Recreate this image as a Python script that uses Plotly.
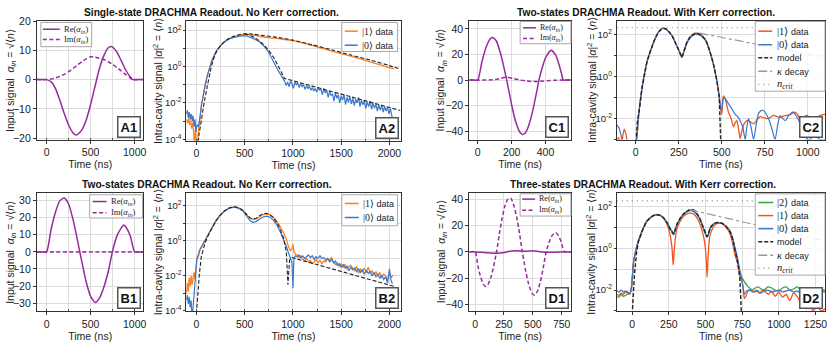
import numpy as np
import plotly.graph_objects as go

W, H = 830, 344

# ---------------- input pulses (linear panels) ----------------
a1_t = [-110, -50, 0, 50, 100, 150, 200, 250, 300, 330, 350, 400, 450, 500, 550, 600, 650, 700, 730, 750, 800, 850, 900, 950, 980, 1000, 1100]
a1_re = [0, 0, 0, -0.7, -3, -7, -11.5, -15.5, -18.2, -18.9, -18.8, -17.2, -13.8, -8.5, -2.3, 3.8, 8.2, 10.9, 11.3, 11.1, 9.3, 6.3, 3.2, 0.9, 0, 0, 0]
a1_im_t = [-110, 0, 50, 100, 150, 200, 250, 300, 350, 400, 450, 500, 550, 600, 650, 700, 750, 800, 850, 900, 950, 980, 1100]
a1_im = [0, 0, 0.2, 0.55, 1.1, 1.8, 2.7, 3.8, 5.0, 6.1, 7.1, 7.8, 7.7, 7.3, 6.9, 6.1, 5.2, 4.1, 2.9, 1.7, 0.6, 0, 0]

b1_t = [-110, -50, 0, 50, 100, 150, 200, 250, 300, 350, 377, 400, 450, 500, 555, 600, 650, 700, 747, 800, 850, 875, 900, 950, 1000, 1050, 1100]
b1_re = [0, 0, 0, 12.8, 23, 29.8, 31.5, 28, 19, 7, 0, -5.7, -17.6, -26, -29.6, -27, -20.6, -11.6, 0, 9.5, 14.2, 15.7, 14.5, 9.4, 0, 0, 0]
b1_im = [0] * len(b1_t)

c1_t = [-50, -20, 0, 25, 50, 75, 89, 110, 135, 150, 171, 200, 225, 250, 265, 280, 300, 325, 350, 361, 380, 400, 433, 460, 480, 500, 503, 520, 550]
c1_re = [0, 0, 0, 14.5, 26, 32.5, 33.3, 30.5, 20.5, 12.5, 0, -19.5, -33, -41, -42.5, -41.3, -35.8, -23.7, -7.7, 0, 9.4, 17.3, 23.3, 19.4, 11.9, 2, 0, 0, 0]
c1_im_t = [-50, 0, 50, 100, 130, 170, 210, 250, 290, 330, 370, 410, 450, 500, 550]
c1_im = [0, 0, 0, 0.3, 1.2, 2.2, 1.2, 0, -0.8, -1.2, -1.0, -0.5, -0.2, 0, 0]

d1_t = [-50, 0, 25, 50, 75, 91, 110, 135, 160, 186, 210, 235, 260, 285, 309, 335, 360, 385, 409, 435, 460, 490, 515, 540, 565, 590, 615, 640, 665, 696, 720, 745, 773, 830]
d1_im = [0, 0, -10.8, -19.7, -25.1, -26.3, -25.2, -19.9, -11.3, 0, 13.5, 26, 35.5, 40.3, 41, 35.5, 26.5, 14, 0, -12.9, -23.2, -31.2, -33, -30, -22.8, -12.3, 0, 7.1, 12.3, 14.7, 12.7, 7.8, 0, 0]
d1_re_t = [-50, 0, 100, 200, 250, 300, 350, 450, 500, 550, 600, 700, 750, 830]
d1_re = [0, 0, -0.7, -1.0, -0.5, 0.5, 0.8, 0.5, 0.8, 0.3, -0.2, -0.2, 0, 0]

# ---------------- intra-cavity photon number, log10 <n> ----------------
a2_one_t = [-105, -90, -80, -70, -60, -50, -40, -30, -20, -10, 0, 10, 20, 34, 52, 70, 86, 110, 138, 170, 207, 250, 293, 340, 397, 450, 500, 550, 600, 650, 724, 800, 897, 1000, 1100, 1200, 1300, 1400, 1500, 1600, 1700, 1800, 1900, 2000, 2050]
a2_one = [-2.9, -3.1, -2.8, -3.2, -3.0, -3.4, -3.1, -3.6, -4.5, -3.3, -4.5, -4.3, -3.6, -3.0, -2.14, -1.6, -1.08, -0.55, -0.03, 0.45, 0.85, 1.15, 1.38, 1.53, 1.65, 1.73, 1.77, 1.76, 1.72, 1.67, 1.6, 1.56, 1.5, 1.42, 1.3, 1.15, 1.0, 0.85, 0.71, 0.57, 0.42, 0.26, 0.1, -0.06, -0.12]
a2_zero_t = [-105, -95, -85, -75, -65, -55, -45, -35, -25, -15, -5, 5, 20, 34, 52, 70, 86, 110, 138, 170, 207, 250, 293, 340, 397, 450, 480, 520, 552, 600, 655, 700, 741, 780, 810, 845, 880, 914,
             930, 945, 960, 975, 990, 1005, 1020, 1035, 1050, 1065, 1080, 1095, 1110, 1125, 1140, 1155, 1170, 1185, 1200, 1215, 1230, 1245, 1260, 1275, 1290, 1305, 1320, 1335, 1350, 1365, 1380, 1395,
             1410, 1425, 1440, 1455, 1470, 1485, 1500, 1515, 1530, 1545, 1560, 1575, 1590, 1605, 1620, 1635, 1650, 1665, 1680, 1695, 1710, 1725, 1740, 1755, 1770, 1785, 1800, 1815, 1830, 1845,
             1860, 1875, 1890, 1905, 1920, 1935, 1950, 1965, 1980, 1995, 2010, 2025, 2035]
a2_zero = [-2.6, -2.4, -2.8, -2.5, -2.9, -2.6, -3.0, -2.7, -3.3, -2.9, -3.6, -3.2, -3.3, -2.9, -2.1, -1.6, -1.08, -0.55, -0.03, 0.45, 0.85, 1.15, 1.37, 1.52, 1.62, 1.68, 1.7, 1.68, 1.63, 1.52, 1.35, 1.12, 0.85, 0.5, 0.15, -0.2, -0.5, -0.8,
           -1.05, -0.85, -1.1, -0.8, -0.95, -1.2, -0.85, -1.0, -0.9, -1.15, -0.95, -1.1, -1.0, -1.25, -1.05, -1.2, -1.1, -1.3, -1.15, -1.35, -1.2, -1.4, -1.15, -1.3, -1.25, -1.55, -1.2, -1.45, -1.3, -1.7, -1.35, -1.6,
           -1.5, -1.9, -1.45, -1.75, -1.55, -2.0, -1.6, -1.85, -1.55, -2.1, -1.7, -1.95, -1.65, -2.05, -1.75, -2.15, -1.8, -2.0, -1.7, -2.2, -1.85, -2.1, -1.9, -2.3, -1.95, -2.2, -1.9, -2.35, -2.0, -2.3,
           -2.05, -2.45, -2.1, -2.4, -2.15, -2.5, -2.2, -2.45, -2.25, -2.6, -2.3, -2.8, -3.0]
a2_model1_t = [10, 25, 50, 70, 90, 110, 140, 170, 207, 250, 293, 340, 397, 450, 500, 550, 600, 700, 800, 900, 1000, 1200, 1400, 1600, 1800, 2000, 2115]
a2_model1 = [-4.5, -3.8, -3.0, -2.3, -1.7, -1.15, -0.35, 0.3, 0.82, 1.15, 1.38, 1.55, 1.68, 1.76, 1.8, 1.8, 1.77, 1.7, 1.63, 1.55, 1.45, 1.2, 0.92, 0.63, 0.36, 0.05, -0.15]
a2_model0_t = [500, 550, 600, 650, 700, 750, 800, 850, 880, 910, 2115]
a2_model0 = [1.78, 1.72, 1.6, 1.42, 1.18, 0.88, 0.5, 0.05, -0.3, -0.65, -2.42]

b2_one_t = [-105, -95, -85, -75, -65, -55, -45, -35, -25, -15, -5, 5, 20, 34, 60, 86, 120, 155, 200, 241, 290, 345, 397, 440, 483, 520, 552, 586, 620, 655, 690, 724, 760, 793, 830, 862, 900, 931, 955, 975, 990, 1000, 1010, 1025,
            1040, 1060, 1080, 1100, 1120, 1140, 1160, 1180, 1200, 1220, 1240, 1260, 1280, 1300, 1320, 1340, 1360, 1380, 1400, 1420, 1440, 1460, 1480, 1500, 1520, 1540, 1560, 1580, 1600, 1620, 1640,
            1660, 1680, 1700, 1720, 1740, 1760, 1780, 1800, 1820, 1840, 1860, 1880, 1900, 1920, 1940, 1960, 1980, 2000, 2020, 2035]
b2_one = [-3.0, -2.4, -2.9, -2.1, -2.6, -2.0, -2.5, -2.1, -1.8, -2.2, -1.3, -0.95, -0.8, -0.5, -0.25, 0.0, 0.38, 0.72, 1.15, 1.45, 1.72, 1.9, 1.95, 1.88, 1.73, 1.5, 1.32, 1.22, 1.27, 1.38, 1.5, 1.55, 1.5, 1.38, 1.15, 0.88, 0.5, 0.1, -0.35, -0.55, -0.45, -0.2, -0.6, -0.75,
          -0.8, -0.95, -0.85, -1.05, -1.15, -1.0, -1.2, -1.1, -1.3, -1.2, -1.05, -1.25, -1.1, -1.3, -1.15, -1.2, -1.0, -1.1, -0.95, -1.2, -1.35, -1.25, -1.45, -1.3, -1.5, -1.35, -1.6, -1.45, -1.4, -1.55, -1.7,
          -1.45, -1.85, -1.6, -1.75, -1.55, -1.8, -1.5, -1.85, -1.7, -1.95, -1.75, -2.0, -1.8, -2.1, -1.9, -2.0, -2.25, -1.85, -2.1, -1.95]
b2_zero_t = [-105, -95, -85, -75, -65, -55, -45, -35, -25, -15, -5, 5, 20, 34, 60, 86, 120, 155, 200, 241, 290, 345, 397, 440, 483, 520, 552, 586, 620, 655, 690, 724, 760, 793, 830, 862, 900, 931, 955, 975, 990, 1000, 1010, 1025,
             1040, 1060, 1080, 1100, 1120, 1140, 1160, 1180, 1200, 1220, 1240, 1260, 1280, 1300, 1320, 1340, 1360, 1380, 1400, 1420, 1440, 1460, 1480, 1500, 1520, 1540, 1560, 1580, 1600, 1620, 1640,
             1660, 1680, 1700, 1720, 1740, 1760, 1780, 1800, 1820, 1840, 1860, 1880, 1900, 1920, 1940, 1960, 1980, 2000, 2015, 2030]
b2_zero = [-3.4, -3.1, -3.6, -3.2, -3.8, -3.4, -4.5, -3.6, -2.8, -2.4, -1.6, -1.05, -0.85, -0.55, -0.28, 0.0, 0.37, 0.7, 1.13, 1.43, 1.7, 1.88, 1.93, 1.86, 1.7, 1.42, 1.18, 1.05, 1.12, 1.25, 1.37, 1.42, 1.37, 1.22, 0.95, 0.6, 0.15, -0.3, -0.7, -1.05, -1.25, -2.7, -1.0, -0.85,
           -0.9, -0.8, -0.95, -0.85, -1.0, -0.9, -0.8, -0.95, -0.85, -1.05, -0.9, -1.0, -0.85, -1.0, -0.95, -1.1, -1.0, -1.2, -1.05, -1.25, -1.15, -1.4, -1.3, -1.5, -1.35, -1.55, -1.45, -1.7, -1.5, -1.65, -1.55,
           -1.75, -1.6, -1.8, -1.65, -1.9, -1.7, -1.85, -1.75, -2.0, -1.8, -2.05, -1.9, -2.15, -1.95, -2.2, -2.05, -2.4, -1.6, -2.2, -2.45]
b2_model_t = [-5, 10, 30, 50, 70, 90, 120, 155, 200, 241, 290, 345, 397, 440, 483, 520, 552, 586, 620, 655, 690, 724, 760, 793, 830, 862, 900, 931, 948, 965, 990, 2050]
b2_model = [-4.5, -3.2, -1.9, -0.9, -0.45, -0.1, 0.3, 0.68, 1.12, 1.44, 1.72, 1.9, 1.95, 1.9, 1.75, 1.52, 1.33, 1.25, 1.3, 1.45, 1.55, 1.58, 1.5, 1.35, 1.08, 0.75, 0.2, -0.6, -2.5, -1.1, -0.95, -2.6]

c2_one_t = [-110, -100, -85, -67, -55, -45, -30, -15, 0, 10, 19, 38, 67, 106, 130, 154, 175, 192, 212, 231, 250, 262, 269, 278, 298, 320, 346, 365, 385, 410, 433, 452, 471, 485, 494, 500, 505, 510, 520, 539, 555, 568, 578, 588, 598, 607, 617, 627, 646, 665, 685, 705, 723, 742, 762, 781, 800, 820, 839, 858, 877, 900, 925, 940, 954, 973, 993, 1015, 1040, 1070, 1100]
c2_one = [-3.2, -2.9, -3.3, -2.5, -2.8, -3.3, -3.5, -3.2, -3.4, -2.6, -1.69, -0.46, 0.77, 1.69, 2.1, 2.31, 2.28, 2.15, 1.95, 1.62, 1.28, 1.02, 0.92, 1.15, 1.65, 1.93, 2.08, 2.06, 1.97, 1.7, 1.16, 0.6, -0.15, -0.9, -1.53, -1.8, -1.3, -0.92, -1.05, -1.69, -2.0, -2.38, -2.2, -2.1, -2.5, -2.95, -2.6, -2.3, -2.1, -2.15, -2.25, -2.05, -1.9, -1.95, -2.0, -1.95, -1.85, -1.9, -1.95, -1.88, -1.85, -1.8, -1.69, -1.8, -2.0, -1.95, -1.85, -1.95, -2.0, -1.85, -1.8]
c2_zero_t = [-110, -98, -85, -75, -60, -45, -30, -15, 0, 10, 19, 38, 67, 106, 130, 154, 175, 192, 212, 231, 250, 262, 269, 278, 298, 320, 346, 365, 385, 410, 433, 452, 471, 485, 494, 500, 505, 510, 525, 540, 560, 578, 593, 607, 622, 636, 646, 656, 670, 685, 700, 714, 728, 742, 760, 781, 795, 810, 825, 839, 855, 870, 885, 900, 916, 935, 954, 975, 993, 1010, 1040, 1070, 1100]
c2_zero = [-2.3, -2.43, -2.8, -3.3, -3.1, -3.6, -3.3, -3.5, -3.2, -2.6, -1.7, -0.47, 0.76, 1.68, 2.09, 2.3, 2.27, 2.14, 1.93, 1.6, 1.26, 1.0, 0.92, 1.12, 1.6, 1.88, 2.02, 2.0, 1.92, 1.66, 1.12, 0.55, -0.2, -0.95, -1.5, -1.6, -1.2, -1.0, -1.1, -1.3, -1.55, -1.8, -1.9, -2.1, -2.4, -3.0, -2.4, -2.0, -2.4, -3.0, -2.3, -1.75, -1.62, -1.61, -1.8, -2.2, -2.6, -3.0, -2.3, -1.85, -2.0, -2.1, -1.9, -1.75, -1.69, -1.9, -2.2, -2.6, -2.95, -3.0, -2.8, -3.0, -3.0]
c2_model_t = [-5, 0, 10, 19, 38, 67, 106, 130, 154, 175, 192, 212, 231, 250, 262, 269, 278, 298, 320, 346, 365, 385, 410, 433, 452, 471, 485, 492, 498]
c2_model = [-4.0, -3.2, -2.1, -1.7, -0.5, 0.76, 1.69, 2.1, 2.31, 2.29, 2.16, 1.95, 1.62, 1.28, 1.02, 0.93, 1.15, 1.66, 1.95, 2.07, 2.05, 1.96, 1.7, 1.16, 0.6, -0.15, -0.9, -1.8, -4.0]
c2_kappa_t = [370, 1100]
c2_kappa = [2.08, 0.92]
c2_ncrit = 2.34

d2_two_t = [-105, -90, -75, -60, -45, -30, -15, -5, 9, 25, 44, 78, 100, 123, 145, 169, 192, 215, 240, 260, 275, 283, 292, 306, 330, 352, 375, 397, 420, 443, 460, 477, 495, 511, 520, 534, 556, 580, 600, 614, 640, 667, 685, 701, 720, 735, 742, 752, 765, 780, 800, 820, 840, 860, 880, 900, 925, 950, 975, 1000, 1025, 1050, 1075, 1100, 1125, 1150, 1175, 1200, 1225, 1250, 1275, 1300, 1315]
d2_two = [-2.3, -2.35, -2.2, -2.3, -2.25, -2.2, -2.15, -1.9, -0.69, -0.1, 0.39, 1.0, 1.3, 1.46, 1.57, 1.61, 1.58, 1.46, 1.22, 0.95, 0.8, 0.72, 0.85, 1.15, 1.45, 1.65, 1.78, 1.84, 1.8, 1.63, 1.45, 1.15, 0.8, 0.58, 0.7, 1.0, 1.18, 1.23, 1.22, 1.2, 1.05, 0.82, 0.45, -0.03, -0.65, -1.1, -1.3, -1.45, -1.6, -1.75, -1.9, -2.0, -1.9, -1.85, -1.95, -2.0, -1.85, -1.9, -2.0, -2.05, -1.9, -1.85, -2.0, -1.95, -1.85, -2.0, -2.05, -1.95, -1.9, -2.0, -2.05, -2.0, -2.0]
d2_one_t = [-105, -90, -75, -60, -45, -30, -15, -5, 9, 25, 44, 78, 100, 123, 145, 169, 192, 215, 240, 260, 272, 280, 288, 300, 320, 352, 375, 397, 420, 443, 460, 477, 495, 505, 511, 518, 530, 556, 580, 600, 614, 640, 667, 685, 701, 719, 735, 745, 755, 765, 775, 790, 810, 830, 850, 870, 890, 910, 930, 950, 975, 1000, 1025, 1050, 1075, 1100, 1125, 1150, 1170, 1190, 1210, 1230, 1260, 1290, 1315]
d2_one = [-2.2, -2.25, -2.15, -2.2, -2.1, -2.15, -2.2, -1.9, -0.69, -0.1, 0.39, 1.0, 1.3, 1.46, 1.56, 1.6, 1.56, 1.42, 1.1, 0.6, 0.0, -0.8, 0.0, 0.75, 1.2, 1.55, 1.66, 1.69, 1.64, 1.45, 1.2, 0.85, 0.25, -0.5, -1.38, -0.4, 0.6, 1.05, 1.2, 1.21, 1.18, 1.0, 0.7, 0.25, -0.3, -0.72, -1.3, -1.5, -1.8, -2.4, -2.3, -2.05, -2.0, -2.1, -2.05, -2.15, -2.0, -2.1, -2.2, -2.05, -2.3, -2.1, -2.35, -2.2, -2.5, -2.15, -2.3, -2.6, -2.3, -2.9, -2.6, -3.0, -2.8, -3.0, -2.9]
d2_zero_t = [-105, -90, -75, -60, -45, -30, -15, -5, 9, 25, 44, 78, 100, 123, 145, 169, 192, 215, 240, 260, 275, 283, 292, 306, 330, 352, 375, 397, 420, 443, 460, 477, 495, 511, 520, 534, 556, 580, 600, 614, 640, 667, 685, 701, 720, 733, 745, 755, 765, 780, 800, 825, 850, 875, 900, 925, 950, 975, 1000, 1025, 1050, 1075, 1100, 1125, 1150, 1175, 1200, 1225, 1250, 1275, 1315]
d2_zero = [-2.05, -2.1, -2.0, -2.1, -2.05, -2.1, -2.15, -1.85, -0.69, -0.1, 0.39, 1.0, 1.3, 1.46, 1.57, 1.61, 1.57, 1.45, 1.2, 0.92, 0.72, 0.65, 0.82, 1.13, 1.44, 1.64, 1.76, 1.8, 1.76, 1.6, 1.42, 1.12, 0.75, 0.52, 0.66, 0.98, 1.17, 1.22, 1.22, 1.2, 1.05, 0.84, 0.5, 0.05, -0.5, -1.03, -1.4, -1.8, -2.2, -2.05, -2.0, -2.1, -2.0, -2.15, -2.05, -2.0, -2.1, -2.05, -2.0, -2.1, -2.05, -2.0, -2.1, -2.05, -2.15, -2.1, -2.05, -2.15, -2.1, -2.05, -2.1]
d2_model_t = [0, 5, 15, 30, 44, 78, 100, 123, 145, 169, 192, 215, 240, 260, 283, 306, 330, 352, 375, 397, 420, 443, 460, 477, 495, 511, 534, 556, 580, 614, 640, 667, 685, 701, 720, 735, 745]
d2_model = [-3.2, -2.5, -1.3, -0.2, 0.35, 1.0, 1.3, 1.46, 1.58, 1.62, 1.58, 1.46, 1.2, 0.9, 0.68, 1.17, 1.48, 1.67, 1.8, 1.88, 1.84, 1.65, 1.45, 1.15, 0.78, 0.55, 1.0, 1.18, 1.24, 1.2, 1.06, 0.8, 0.45, -0.05, -0.7, -1.5, -3.2]
d2_kappa_t = [390, 1315]
d2_kappa = [1.86, 0.35]
d2_ncrit = 2.28

PURPLE = '#952b9e'
ORANGE = '#ff7f1e'
RED_OR = '#f5521c'
BLUE = '#3a78cc'
GREEN = '#35a535'
GREY = '#9a9a9a'
MODEL = '#222222'
FONT = 'Liberation Sans'
SERIF = 'Liberation Serif'
DASH = '4px,2.5px'
MDASH = '4px,2px'

# axis boxes in pixels: (x0, x1, y0, y1) measured from top-left
boxes = {
    1: (37, 144, 15, 138),   # A1
    2: (187, 402, 15, 139),  # A2
    3: (471, 573, 15, 138),  # C1
    4: (619, 828, 15, 138),  # C2
    5: (37, 144, 193, 315),  # B1
    6: (187, 402, 193, 315), # B2
    7: (471, 573, 193, 315), # D1
    8: (619, 828, 193, 315), # D2
}

fig = go.Figure()


def line(k, x, y, color, dash='solid', width=1.5, log=False, shape='spline'):
    yy = np.power(10.0, y) if log else y
    fig.add_trace(go.Scatter(
        x=x, y=yy, mode='lines', showlegend=False,
        line=dict(color=color, width=width, dash=dash, shape=shape, smoothing=0.6),
        xaxis='x' if k == 1 else f'x{k}', yaxis='y' if k == 1 else f'y{k}',
        hoverinfo='skip'))


# A1 / B1 / C1 / D1
line(1, a1_t, a1_re, PURPLE)
line(1, a1_im_t, a1_im, PURPLE, dash=DASH)
line(5, b1_t, b1_re, PURPLE)
line(5, b1_t, b1_im, PURPLE, dash=DASH)
line(3, c1_t, c1_re, PURPLE)
line(3, c1_im_t, c1_im, PURPLE, dash=DASH)
line(7, d1_re_t, d1_re, PURPLE)
line(7, d1_t, d1_im, PURPLE, dash=DASH)

# A2
line(2, a2_one_t, a2_one, ORANGE, log=True, width=1.3)
line(2, a2_zero_t, a2_zero, BLUE, log=True, width=1.2, shape='linear')
line(2, a2_model1_t, a2_model1, MODEL, dash=MDASH, log=True, width=1.1)
line(2, a2_model0_t, a2_model0, MODEL, dash=MDASH, log=True, width=1.1, shape='linear')
# B2
line(6, b2_one_t, b2_one, ORANGE, log=True, width=1.3, shape='linear')
line(6, b2_zero_t, b2_zero, BLUE, log=True, width=1.2, shape='linear')
line(6, b2_model_t, b2_model, MODEL, dash=MDASH, log=True, width=1.1, shape='linear')
# C2
line(4, c2_one_t, c2_one, RED_OR, log=True, width=1.3)
line(4, c2_zero_t, c2_zero, BLUE, log=True, width=1.2)
line(4, c2_model_t, c2_model, MODEL, dash=MDASH, log=True, width=1.4, shape='linear')
line(4, c2_kappa_t, c2_kappa, GREY, dash='dashdot', log=True, width=1.2, shape='linear')
line(4, [-110, 1100], [c2_ncrit, c2_ncrit], GREY, dash='1px,4px', log=True, width=1.3, shape='linear')
# D2
line(8, d2_two_t, d2_two, GREEN, log=True, width=1.3)
line(8, d2_one_t, d2_one, RED_OR, log=True, width=1.3)
line(8, d2_zero_t, d2_zero, BLUE, log=True, width=1.2)
line(8, d2_model_t, d2_model, MODEL, dash=MDASH, log=True, width=1.4, shape='linear')
line(8, d2_kappa_t, d2_kappa, GREY, dash='dashdot', log=True, width=1.2, shape='linear')
line(8, [-105, 1315], [d2_ncrit, d2_ncrit], GREY, dash='1px,4px', log=True, width=1.3, shape='linear')

GRID = '#dcdcdc'
TICKF = dict(family=FONT, size=10.5, color='#222')
LOGF = dict(family=FONT, size=9.5, color='#222')


def dom(k):
    x0, x1, y0, y1 = boxes[k]
    return [x0 / W, x1 / W], [1 - y1 / H, 1 - y0 / H]


def log_ticks(lo, hi):
    vals = [10.0 ** e for e in range(lo, hi + 1)]
    txt = [f'10<sup>{e}</sup>' if e % 2 == 0 else '' for e in range(lo, hi + 1)]
    return vals, txt


axcfg = {
    1: dict(xr=[-110, 1100], xd=500, xm=250, yr=[-20.5, 20.2], yd=10),
    2: dict(xr=[-105, 2115], xd=500, xm=250, yr=[-4.07, 2.53], ylog=(-4, 2)),
    3: dict(xr=[-50, 550], xd=200, xm=None, yr=[-46.5, 46.5], yd=20),
    4: dict(xr=[-110, 1100], xd=250, xm=None, yr=[-3.0, 2.68], ylog=(-3, 2)),
    5: dict(xr=[-110, 1100], xd=500, xm=250, yr=[-34.5, 34.5], yd=10),
    6: dict(xr=[-105, 2115], xd=500, xm=250, yr=[-4.0, 2.75], ylog=(-4, 2)),
    7: dict(xr=[-50, 830], xd=250, xm=None, yr=[-45, 45], yd=20),
    8: dict(xr=[-105, 1315], xd=250, xm=None, yr=[-3.0, 2.66], ylog=(-3, 2)),
}

layout = dict(
    width=W, height=H, margin=dict(l=0, r=0, t=0, b=0),
    paper_bgcolor='white', plot_bgcolor='white',
    font=dict(family=FONT, size=10.5, color='#222'),
    showlegend=False,
)

for k, c in axcfg.items():
    xd, yd = dom(k)
    sx = '' if k == 1 else str(k)
    xa = dict(domain=xd, anchor=f'y{sx}', range=c['xr'], dtick=c['xd'], tick0=0,
              showgrid=True, gridcolor=GRID, gridwidth=1, zeroline=False,
              showline=True, linecolor='#333', linewidth=1, mirror=True,
              ticks='outside', ticklen=3, tickcolor='#333', tickfont=TICKF,
              title=dict(text='Time (ns)', font=dict(family=FONT, size=10.5), standoff=2))
    if c['xm']:
        xa['minor'] = dict(dtick=c['xm'], showgrid=True, gridcolor=GRID, ticks='inside', ticklen=2, tickcolor='#555')
    ya = dict(domain=yd, anchor=f'x{sx}', range=c['yr'],
              showgrid=True, gridcolor=GRID, gridwidth=1, zeroline=False,
              showline=True, linecolor='#333', linewidth=1, mirror=True,
              ticks='outside', ticklen=3, tickcolor='#333', tickfont=TICKF)
    if 'ylog' in c:
        v, t = log_ticks(*c['ylog'])
        ya.update(type='log', tickvals=v, ticktext=t, tickfont=LOGF, ticklen=2)
    else:
        ya.update(dtick=c['yd'], tick0=0)
    layout[f'xaxis{sx}'] = xa
    layout[f'yaxis{sx}'] = ya

fig.update_layout(**layout)


# small matplotlib-like legends drawn in pixel positions
def px_x(v):
    return v / W


def px_y(v):
    return 1 - v / H


def legend_box(box, lx0, lx1, tx, rows, size, family):
    x0, y0, x1, y1 = box
    fig.add_shape(type='rect', xref='paper', yref='paper', x0=px_x(x0), x1=px_x(x1), y0=px_y(y1), y1=px_y(y0),
                  fillcolor='rgba(255,255,255,0.85)', line=dict(color='#a8a8a8', width=1), layer='above')
    for ry, color, dash, text in rows:
        fig.add_shape(type='line', xref='paper', yref='paper', x0=px_x(lx0), x1=px_x(lx1), y0=px_y(ry), y1=px_y(ry),
                      line=dict(color=color, width=1.5, dash=dash), layer='above')
        fig.add_annotation(text=text, xref='paper', yref='paper', x=px_x(tx), y=px_y(ry), xanchor='left', yanchor='middle',
                           showarrow=False, font=dict(family=family, size=size, color='#222'))


RE = 'Re(<i>α</i><sub><i>in</i></sub>)'
IM = 'Im(<i>α</i><sub><i>in</i></sub>)'
K1 = '|1⟩ <span style="font-family:Liberation Sans;font-size:9px">data</span>'
K0 = '|0⟩ <span style="font-family:Liberation Sans;font-size:9px">data</span>'
K2 = '|2⟩ <span style="font-family:Liberation Sans;font-size:9px">data</span>'
MOD = '<span style="font-family:Liberation Sans;font-size:9px">model</span>'
KAP = '<i>κ</i> <span style="font-family:Liberation Sans;font-size:9px">decay</span>'
NCR = '<i>n<sub>crit</sub></i>'

legend_box((41, 17, 92, 42), 43, 60, 62, [(24, PURPLE, 'solid', RE), (34.5, PURPLE, DASH, IM)], 8.5, SERIF)
legend_box((90, 195, 143, 219), 93, 107, 109, [(202, PURPLE, 'solid', RE), (213.5, PURPLE, DASH, IM)], 8.5, SERIF)
legend_box((522, 16, 573, 39), 525, 538, 540, [(22.5, PURPLE, 'solid', RE), (33.5, PURPLE, DASH, IM)], 8, SERIF)
legend_box((522, 194, 573, 217), 524, 537, 539, [(199.5, PURPLE, 'solid', RE), (211, PURPLE, DASH, IM)], 8, SERIF)
legend_box((343, 17, 399, 47), 346, 359, 361, [(26, ORANGE, 'solid', K1), (40.5, BLUE, 'solid', K0)], 10, SERIF)
legend_box((343, 195, 399, 227), 346, 360, 362, [(204, ORANGE, 'solid', K1), (218.5, BLUE, 'solid', K0)], 10, SERIF)
legend_box((758, 16, 828, 88), 761, 775, 778, [(26, RED_OR, 'solid', K1), (40, BLUE, 'solid', K0), (53.5, MODEL, MDASH, MOD),
                                               (67.5, GREY, 'dashdot', KAP), (81, GREY, '1px,4px', NCR)], 10.5, SERIF)
legend_box((758, 194, 828, 278), 761, 776, 778, [(203, GREEN, 'solid', K2), (216.5, RED_OR, 'solid', K1), (230, BLUE, 'solid', K0),
                                                 (243.5, MODEL, MDASH, MOD), (257.5, GREY, 'dashdot', KAP), (271, GREY, '1px,4px', NCR)], 10.5, SERIF)

# panel labels
labels = {1: 'A1', 2: 'A2', 3: 'C1', 4: 'C2', 5: 'B1', 6: 'B2', 7: 'D1', 8: 'D2'}
for k, lab in labels.items():
    sx = '' if k == 1 else str(k)
    fig.add_annotation(text=f'<b>{lab}</b>', xref=f'x{sx} domain', yref=f'y{sx} domain',
                       x=1, y=0, xanchor='right', yanchor='bottom', xshift=-2, yshift=2,
                       showarrow=False, font=dict(family=FONT, size=13, color='#111'),
                       bordercolor='#555', borderwidth=1.5, borderpad=2, bgcolor='white')

# row titles
titles = [
    (212, 7, 'Single-state DRACHMA Readout. No Kerr correction.'),
    (648, 7, 'Two-states DRACHMA Readout. With Kerr correction.'),
    (208, 184, 'Two-states DRACHMA Readout. No Kerr correction.'),
    (645, 184, 'Three-states DRACHMA Readout. With Kerr correction.'),
]
for px, py, t in titles:
    fig.add_annotation(text=f'<b>{t}</b>', xref='paper', yref='paper', x=px / W, y=1 - py / H,
                       xanchor='center', yanchor='middle', showarrow=False,
                       font=dict(family=FONT, size=10.2, color='#111'))

# y-axis titles
IN_T = 'Input signal  <i>α<sub>in</sub></i> = √⟨<i>n</i>⟩'
CAV_T = 'Intra-cavity signal |<i>α</i>|<sup>2</sup> = ⟨<i>n</i>⟩'
for k, px in [(1, 11), (5, 11), (3, 443), (7, 443), (2, 158), (6, 158), (4, 593), (8, 593)]:
    x0, x1, y0, y1 = boxes[k]
    fig.add_annotation(text=IN_T if k in (1, 3, 5, 7) else CAV_T, xref='paper', yref='paper',
                       x=px / W, y=1 - (y0 + y1) / 2 / H, textangle=-90,
                       xanchor='center', yanchor='middle', showarrow=False,
                       font=dict(family=FONT, size=10.5, color='#222'))

fig.write_html('out.html', config={'displayModeBar': False},
               post_script="document.body.style.margin='0px';")
